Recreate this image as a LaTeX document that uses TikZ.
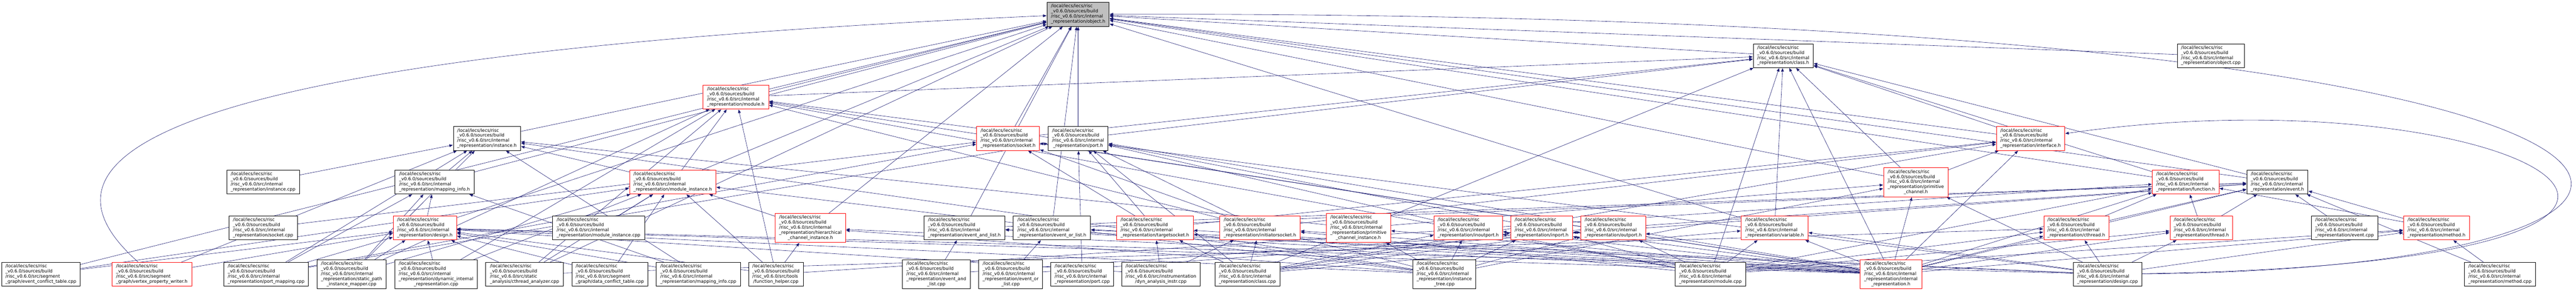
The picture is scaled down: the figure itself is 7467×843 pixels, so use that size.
\documentclass[tikz,border=0pt]{standalone}
\usepackage{fontspec}
\setmainfont{DejaVu Sans}
\usetikzlibrary{arrows.meta}
\definecolor{midnightblue}{HTML}{191970}
\definecolor{grey75}{HTML}{BFBFBF}
\pgfdeclarelayer{background}
\pgfsetlayers{background,main}
\newcommand{\flbl}[2]{\begin{tabular}{@{}l@{}}/local/lecs/lecs/risc\\\_v0.6.0/sources/build\\#1\\\multicolumn{1}{@{}c@{}}{#2}\end{tabular}}
\newcommand{\irlbl}[1]{\flbl{/risc\_v0.6.0/src/internal}{\_representation/#1}}
\newcommand{\irlblb}[2]{\flbl{/risc\_v0.6.0/src/internal\\\_representation/#1}{#2}}

\begin{document}
\begin{tikzpicture}[x=1pt,y=-1pt,>={Triangle[length=10pt,width=8pt]},
    file/.style={rectangle,draw=black,fill=white,line width=1pt,inner sep=1pt,minimum height=69,font=\fontsize{12.9}{14.7}\selectfont},
    tall/.style={minimum height=84},
    trunc/.style={draw=red},
    root/.style={fill=grey75},
    dep/.style={->,color=midnightblue,line width=0.9pt,shorten >=1pt}]
        \useasboundingbox (0,0) rectangle (7467,843);
        \node[file,root,minimum width=180] (object_h) at (3125,41.5) {\irlbl{object.h}};
        \node[file,minimum width=174] (class_h) at (5169,161.5) {\irlbl{class.h}};
        \node[file,minimum width=195] (object_cpp) at (6408.5,161.5) {\irlbl{object.cpp}};
        \node[file,trunc,minimum width=190] (module_h) at (2133,281.5) {\irlbl{module.h}};
        \node[file,minimum width=195] (instance_h) at (1411.5,401.5) {\irlbl{instance.h}};
        \node[file,trunc,minimum width=182] (socket_h) at (2922,401.5) {\irlbl{socket.h}};
        \node[file,minimum width=174] (port_h) at (3125,401.5) {\irlbl{port.h}};
        \node[file,trunc,minimum width=198] (interface_h) at (5886,401.5) {\irlbl{interface.h}};
        \node[file,minimum width=211] (instance_cpp) at (762.5,528) {\irlbl{instance.cpp}};
        \node[file,minimum width=229] (mapping_info_h) at (1259.5,528) {\irlbl{mapping\_info.h}};
        \node[file,trunc,minimum width=250] (module_instance_h) at (1950,528) {\irlbl{module\_instance.h}};
        \node[file,tall,trunc,minimum width=187] (prim_channel_h) at (5553.5,528.5) {\irlblb{primitive}{\_channel.h}};
        \node[file,trunc,minimum width=193] (function_h) at (6335.5,528) {\irlbl{function.h}};
        \node[file,minimum width=177] (event_h) at (6601.5,528) {\irlbl{event.h}};
        \node[file,minimum width=199] (socket_cpp) at (762.5,661) {\irlbl{socket.cpp}};
        \node[file,trunc,minimum width=183] (design_h) at (1231.5,661) {\irlbl{design.h}};
        \node[file,minimum width=266] (module_instance_cpp) at (1735,661) {\irlbl{module\_instance.cpp}};
        \node[file,tall,trunc,minimum width=204] (hier_chan_inst_h) at (2349,661) {\irlblb{hierarchical}{\_channel\_instance.h}};
        \node[file,minimum width=235] (event_and_list_h) at (2795.5,661) {\irlbl{event\_and\_list.h}};
        \node[file,minimum width=224] (event_or_list_h) at (3049,661) {\irlbl{event\_or\_list.h}};
        \node[file,trunc,minimum width=223] (targetsocket_h) at (3347.5,661) {\irlbl{targetsocket.h}};
        \node[file,trunc,minimum width=234] (initiatorsocket_h) at (3652,661) {\irlbl{initiatorsocket.h}};
        \node[file,tall,trunc,minimum width=187] (prim_chan_inst_h) at (3937.5,661) {\irlblb{primitive}{\_channel\_instance.h}};
        \node[file,trunc,minimum width=198] (inoutport_h) at (4256,661) {\irlbl{inoutport.h}};
        \node[file,trunc,minimum width=179] (inport_h) at (4468.5,661) {\irlbl{inport.h}};
        \node[file,trunc,minimum width=188] (outport_h) at (4676,661) {\irlbl{outport.h}};
        \node[file,trunc,minimum width=194] (variable_h) at (5144,661) {\irlbl{variable.h}};
        \node[file,trunc,minimum width=189] (cthread_h) at (6018.5,661) {\irlbl{cthread.h}};
        \node[file,trunc,minimum width=182] (thread_h) at (6381,661) {\irlbl{thread.h}};
        \node[file,minimum width=192] (event_cpp) at (6796,661) {\irlbl{event.cpp}};
        \node[file,trunc,minimum width=191] (method_h) at (7062.5,661) {\irlbl{method.h}};
        \node[file,minimum width=227] (event_conflict_table_cpp) at (118.5,795) {\flbl{/risc\_v0.6.0/src/segment}{\_graph/event\_conflict\_table.cpp}};
        \node[file,trunc,minimum width=232] (vertex_property_writer_h) at (440,795) {\flbl{/risc\_v0.6.0/src/segment}{\_graph/vertex\_property\_writer.h}};
        \node[file,minimum width=245] (port_mapping_cpp) at (771.5,795) {\irlbl{port\_mapping.cpp}};
        \node[file,tall,minimum width=200] (static_path_cpp) at (1019,795) {\irlblb{static\_path}{\_instance\_mapper.cpp}};
        \node[file,tall,minimum width=240] (dynamic_ir_cpp) at (1264,795) {\irlblb{dynamic\_internal}{\_representation.cpp}};
        \node[file,minimum width=225] (cthread_analyzer_cpp) at (1520.5,795) {\flbl{/risc\_v0.6.0/src/static}{\_analysis/cthread\_analyzer.cpp}};
        \node[file,minimum width=219] (data_conflict_table_cpp) at (1767.5,795) {\flbl{/risc\_v0.6.0/src/segment}{\_graph/data\_conflict\_table.cpp}};
        \node[file,minimum width=244] (mapping_info_cpp) at (2024,795) {\irlbl{mapping\_info.cpp}};
        \node[file,minimum width=158] (function_helper_cpp) at (2249,795) {\flbl{/risc\_v0.6.0/src/tools}{/function\_helper.cpp}};
        \node[file,tall,minimum width=196] (event_and_list_cpp) at (2714,795) {\irlblb{event\_and}{\_list.cpp}};
        \node[file,tall,minimum width=185] (event_or_list_cpp) at (2929.5,795) {\irlblb{event\_or}{\_list.cpp}};
        \node[file,minimum width=182] (port_cpp) at (3137,795) {\irlbl{port.cpp}};
        \node[file,minimum width=226] (dyn_analysis_instr_cpp) at (3365,795) {\flbl{/risc\_v0.6.0/src/instrumentation}{/dyn\_analysis\_instr.cpp}};
        \node[file,minimum width=188] (class_cpp) at (3616,795) {\irlbl{class.cpp}};
        \node[file,tall,minimum width=183] (instance_tree_cpp) at (4186.5,795) {\irlblb{instance}{\_tree.cpp}};
        \node[file,minimum width=204] (module_cpp) at (4958,795) {\irlbl{module.cpp}};
        \node[file,tall,trunc,minimum width=180] (ir_h) at (5481,795) {\irlblb{internal}{\_representation.h}};
        \node[file,minimum width=198] (design_cpp) at (6109,795) {\irlbl{design.cpp}};
        \node[file,minimum width=205] (method_cpp) at (7246.5,795) {\irlbl{method.cpp}};
        \begin{pgfonlayer}{background}
        \path[dep]
        (class_h) edge (object_h) (object_cpp) edge (object_h) (module_h) edge (object_h)
        (instance_h) edge (object_h) (socket_h) edge (object_h) (port_h) edge (object_h)
        (interface_h) edge (object_h) (mapping_info_h) edge (object_h) (module_instance_h) edge (object_h)
        (prim_channel_h) edge (object_h) (function_h) edge (object_h) (event_h) edge (object_h)
        (hier_chan_inst_h) edge (object_h) (event_and_list_h) edge (object_h) (event_or_list_h) edge (object_h)
        (variable_h) edge (object_h) (design_h) edge (object_h)
        (vertex_property_writer_h) edge[to path={.. controls (130,520) and (150,170) .. (\tikztotarget)}] (object_h)
        (design_cpp) edge[to path={.. controls (8200,780) and (8200,30) .. (\tikztotarget)}] (object_h)
        (event_conflict_table_cpp) edge (object_h) (cthread_analyzer_cpp) edge (object_h)
        (module_h) edge (class_h) (port_h) edge (class_h) (socket_h) edge (class_h)
        (interface_h) edge (class_h) (variable_h) edge (class_h) (function_h) edge (class_h)
        (event_h) edge (class_h) (prim_channel_h) edge (class_h) (class_cpp) edge (class_h)
        (module_cpp) edge (class_h) (ir_h) edge (class_h)
        (module_instance_h) edge (module_h) (function_helper_cpp) edge (module_h) (module_cpp) edge (module_h)
        (ir_h) edge (module_h) (design_cpp) edge (module_h) (instance_tree_cpp) edge (module_h)
        (static_path_cpp) edge (module_h) (dynamic_ir_cpp) edge (module_h) (cthread_analyzer_cpp) edge (module_h)
        (mapping_info_h) edge (instance_h) (module_instance_h) edge (instance_h) (prim_chan_inst_h) edge (instance_h)
        (instance_cpp) edge (instance_h) (port_mapping_cpp) edge (instance_h) (static_path_cpp) edge (instance_h)
        (instance_tree_cpp) edge (instance_h) (vertex_property_writer_h) edge (instance_h) (mapping_info_cpp) edge (instance_h)
        (targetsocket_h) edge (socket_h) (initiatorsocket_h) edge (socket_h) (socket_cpp) edge (socket_h)
        (ir_h) edge (socket_h) (port_mapping_cpp) edge (socket_h)
        (inport_h) edge (port_h) (outport_h) edge (port_h) (inoutport_h) edge (port_h)
        (targetsocket_h) edge (port_h) (initiatorsocket_h) edge (port_h) (port_cpp) edge (port_h)
        (port_mapping_cpp) edge (port_h) (class_cpp) edge (port_h)
        (prim_channel_h) edge (interface_h) (ir_h) edge (interface_h) (class_cpp) edge (interface_h)
        (targetsocket_h) edge (interface_h) (initiatorsocket_h) edge (interface_h)
        (design_cpp) edge[to path={.. controls (8300,760) and (7300,200) .. (\tikztotarget)}] (interface_h)
        (design_h) edge (mapping_info_h) (mapping_info_cpp) edge (mapping_info_h) (port_mapping_cpp) edge (mapping_info_h)
        (static_path_cpp) edge (mapping_info_h)
        (hier_chan_inst_h) edge (module_instance_h) (module_instance_cpp) edge (module_instance_h) (static_path_cpp) edge (module_instance_h)
        (function_helper_cpp) edge (module_instance_h) (instance_tree_cpp) edge (module_instance_h) (cthread_analyzer_cpp) edge (module_instance_h)
        (dynamic_ir_cpp) edge (module_instance_h) (event_conflict_table_cpp) edge (module_instance_h) (data_conflict_table_cpp) edge (module_instance_h)
        (prim_chan_inst_h) edge (prim_channel_h) (ir_h) edge (prim_channel_h) (instance_tree_cpp) edge (prim_channel_h)
        (design_cpp) edge (prim_channel_h)
        (cthread_h) edge (function_h) (thread_h) edge (function_h) (method_h) edge (function_h)
        (ir_h) edge (function_h) (module_cpp) edge (function_h) (function_helper_cpp) edge (function_h)
        (event_and_list_h) edge (event_h) (event_or_list_h) edge (event_h) (thread_h) edge (event_h)
        (cthread_h) edge (event_h) (method_h) edge (event_h) (event_cpp) edge (event_h)
        (ir_h) edge (event_h) (method_cpp) edge (event_h) (event_and_list_cpp) edge (event_h)
        (event_or_list_cpp) edge (event_h)
        (event_conflict_table_cpp) edge (design_h) (vertex_property_writer_h) edge (design_h) (port_mapping_cpp) edge (design_h)
        (static_path_cpp) edge (design_h) (dynamic_ir_cpp) edge (design_h) (cthread_analyzer_cpp) edge (design_h)
        (data_conflict_table_cpp) edge (design_h) (mapping_info_cpp) edge (design_h) (function_helper_cpp) edge (design_h)
        (design_cpp) edge (design_h) (ir_h) edge (design_h) (instance_tree_cpp) edge (design_h)
        (dyn_analysis_instr_cpp) edge (design_h)
        (function_helper_cpp) edge (hier_chan_inst_h) (instance_tree_cpp) edge (hier_chan_inst_h) (ir_h) edge (hier_chan_inst_h)
        (event_and_list_cpp) edge (event_and_list_h) (ir_h) edge (event_and_list_h) (design_cpp) edge (event_and_list_h)
        (event_or_list_cpp) edge (event_or_list_h) (ir_h) edge (event_or_list_h) (design_cpp) edge (event_or_list_h)
        (dyn_analysis_instr_cpp) edge (targetsocket_h) (class_cpp) edge (targetsocket_h) (ir_h) edge (targetsocket_h)
        (instance_tree_cpp) edge (targetsocket_h)
        (dyn_analysis_instr_cpp) edge (initiatorsocket_h) (class_cpp) edge (initiatorsocket_h) (ir_h) edge (initiatorsocket_h)
        (module_cpp) edge (initiatorsocket_h)
        (instance_tree_cpp) edge (prim_chan_inst_h) (ir_h) edge (prim_chan_inst_h)
        (instance_tree_cpp) edge (inoutport_h) (ir_h) edge (inoutport_h) (module_cpp) edge (inoutport_h) (class_cpp) edge (inoutport_h)
        (instance_tree_cpp) edge (inport_h) (ir_h) edge (inport_h) (module_cpp) edge (inport_h) (class_cpp) edge (inport_h)
        (instance_tree_cpp) edge (outport_h) (ir_h) edge (outport_h) (module_cpp) edge (outport_h) (class_cpp) edge (outport_h)
        (module_cpp) edge (variable_h) (ir_h) edge (variable_h) (class_cpp) edge (variable_h) (design_cpp) edge (variable_h)
        (design_cpp) edge (cthread_h) (ir_h) edge (cthread_h) (cthread_analyzer_cpp) edge (cthread_h) (module_cpp) edge (cthread_h)
        (design_cpp) edge (thread_h) (ir_h) edge (thread_h) (module_cpp) edge (thread_h)
        (method_cpp) edge (method_h) (design_cpp) edge (method_h) (ir_h) edge (method_h) (module_cpp) edge (method_h);
        \end{pgfonlayer}
    \end{tikzpicture}
\end{document}
